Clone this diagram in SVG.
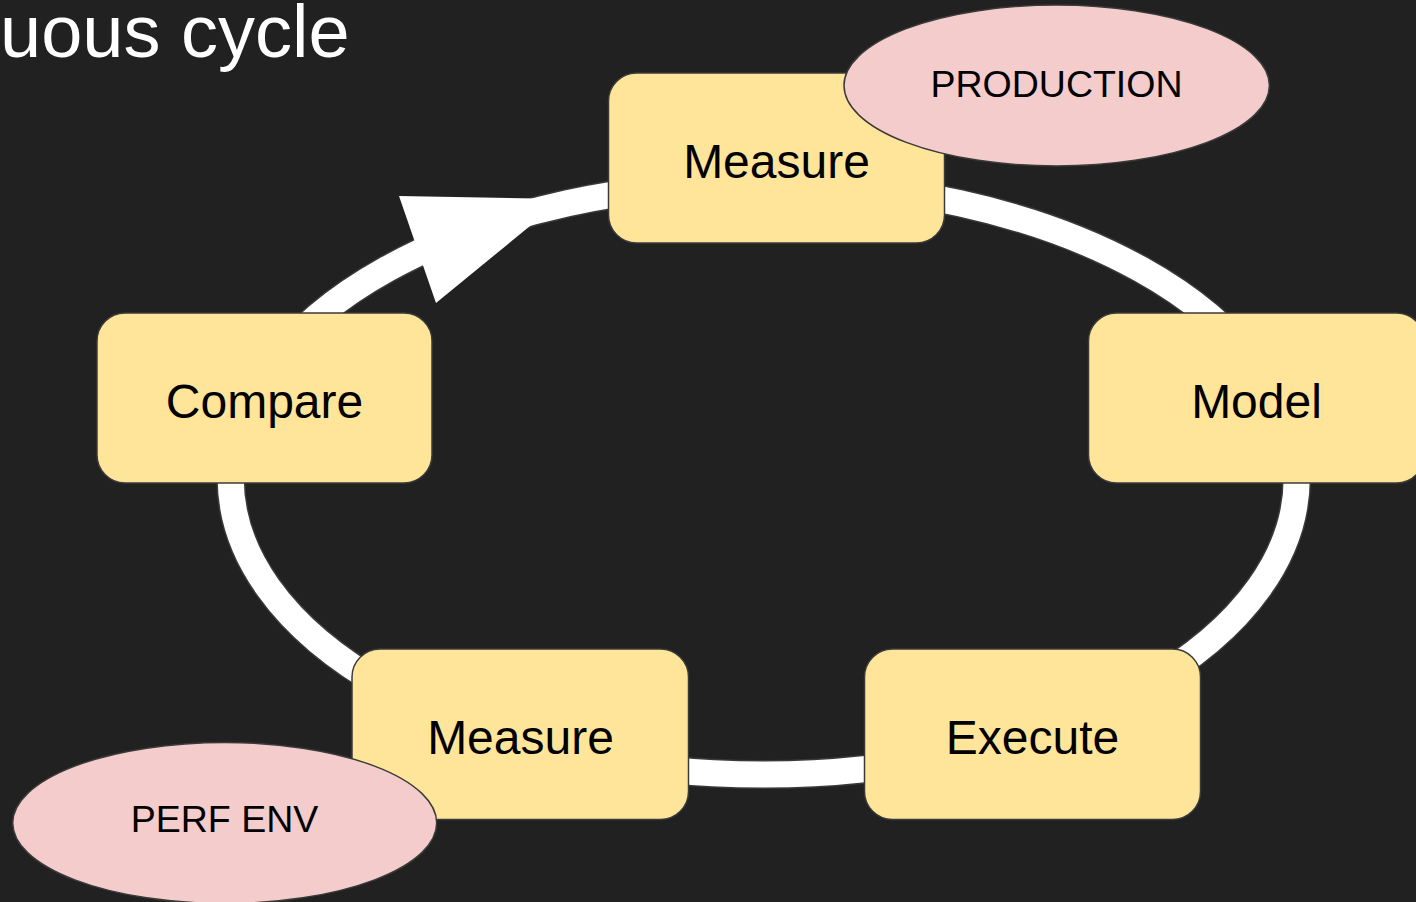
<svg xmlns="http://www.w3.org/2000/svg" width="1416" height="902" viewBox="0 0 1416 902">
  <style>
    .box { fill: #FFE599; stroke: #3a3a3a; stroke-width: 1.5; }
    .env { fill: #F4CCCC; stroke: #3a3a3a; stroke-width: 1.5; }
    .lbl { font-family: "Liberation Sans", Arial, sans-serif; font-size: 48px; fill: #000000; text-anchor: middle; }
    .envlbl { font-family: "Liberation Sans", Arial, sans-serif; font-size: 37.5px; fill: #000000; text-anchor: middle; }
    .title { font-family: "Liberation Sans", Arial, sans-serif; font-size: 74px; fill: #FFFFFF; }
  </style>
  <rect x="0" y="0" width="1416" height="902" fill="#212121"/>
  <text id="title" class="title" x="0" y="57">uous cycle</text>

  <g id="connectors">
    <ellipse cx="763.7" cy="478.5" rx="533" ry="296" fill="none" stroke="#3a3a3a" stroke-width="29"/>
    <ellipse cx="763.7" cy="478.5" rx="533" ry="296" fill="none" stroke="#FFFFFF" stroke-width="26"/>
    <polygon points="399,196 563,199 436,303" fill="#FFFFFF"/>
  </g>

  <g id="node-measure-top">
    <rect class="box" x="608.5" y="73" width="336" height="170" rx="28" ry="28"/>
    <text class="lbl" x="776.5" y="178">Measure</text>
  </g>
  <g id="node-production">
    <ellipse class="env" cx="1056.7" cy="85.5" rx="212.7" ry="80.5"/>
    <text class="envlbl" x="1056.5" y="97">PRODUCTION</text>
  </g>
  <g id="node-model">
    <rect class="box" x="1088.5" y="313" width="336" height="170" rx="28" ry="28"/>
    <text class="lbl" x="1256.5" y="418">Model</text>
  </g>
  <g id="node-execute">
    <rect class="box" x="864.5" y="649" width="336" height="170.5" rx="28" ry="28"/>
    <text class="lbl" x="1032.5" y="753.5">Execute</text>
  </g>
  <g id="node-measure-bottom">
    <rect class="box" x="352" y="649" width="336.5" height="170.5" rx="28" ry="28"/>
    <text class="lbl" x="520.5" y="753.5">Measure</text>
  </g>
  <g id="node-perf-env">
    <ellipse class="env" cx="224.7" cy="823" rx="212" ry="80.5"/>
    <text class="envlbl" x="224.5" y="832">PERF ENV</text>
  </g>
  <g id="node-compare">
    <rect class="box" x="97" y="313" width="335" height="170" rx="28" ry="28"/>
    <text class="lbl" x="264.5" y="418">Compare</text>
  </g>
</svg>
